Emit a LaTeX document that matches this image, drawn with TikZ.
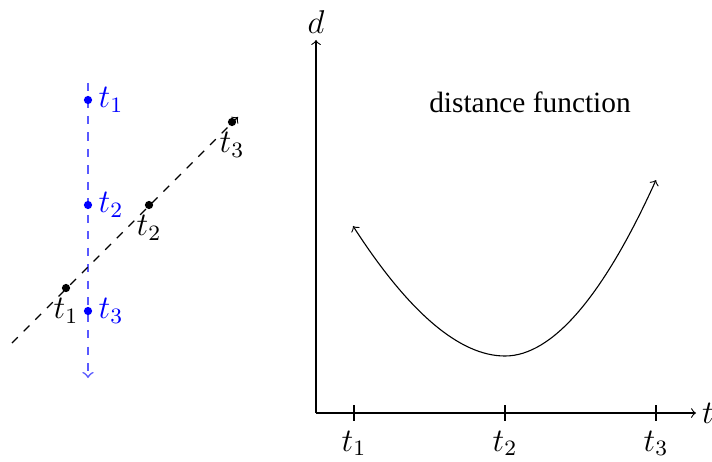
\documentclass[tikz,border=0pt]{standalone}
\usepackage{fontspec}
\setmainfont{Liberation Serif}
\begin{document}
\begin{tikzpicture}[x=0.0128cm,y=-0.0128cm,
  mfont/.style={font=\fontsize{11.8}{14}\selectfont},
  bdot/.style={circle,fill=blue,inner sep=0pt,minimum size=3pt},
  kdot/.style={circle,fill=black,inner sep=0pt,minimum size=3pt},
  blab/.style={mfont,text=blue,right,inner sep=2pt},
  klab/.style={mfont,below,inner sep=2pt},
  ax/.style={->}]
\useasboundingbox (0,0) rectangle (712,462);
% left: blue vertical line
\coordinate (bt) at (88,83);
\coordinate (bb) at (88,378);
\draw[blue,opacity=0.65,dashed,->,line width=0.6pt] (bt) -- (bb);
\node[bdot] (b1) at (88,100) {};
\node[bdot] (b2) at (88,205) {};
\node[bdot] (b3) at (88,311) {};
\node[blab] (lb1) at (b1.east) {$t_1$};
\node[blab] (lb2) at (b2.east) {$t_2$};
\node[blab] (lb3) at (b3.east) {$t_3$};
% left: black diagonal line
\coordinate (ks) at (12,343);
\coordinate (ke) at (238,117);
\draw[dashed,->] (ks) -- (ke);
\node[kdot] (k1) at (66,288) {};
\node[kdot] (k2) at (149,205) {};
\node[kdot] (k3) at (232,122) {};
\node[klab] (lk1) at (k1.south) {$t_1$};
\node[klab] (lk2) at (k2.south) {$t_2$};
\node[klab] (lk3) at (k3.south) {$t_3$};
% right: axes
\coordinate (o) at (316,413);
\coordinate (ytop) at (316,40);
\coordinate (xend) at (696,413);
\draw[ax] (o) -- (ytop);
\draw[ax] (o) -- (xend);
\node[mfont,above,inner sep=2pt] (dl) at (ytop) {$d$};
\node[mfont,right,inner sep=2pt] (tl) at (xend) {$t$};
\foreach \x/\n in {354/1,505/2,656/3}{
  \coordinate (tk\n) at (\x,413);
  \draw ([yshift=-0.1cm]tk\n) -- ([yshift=0.1cm]tk\n);
  \node[mfont,below,inner sep=2pt] (tkl\n) at ([yshift=-0.15cm]tk\n) {$t_\n$};
}
\node[font=\fontsize{10.7}{13}\selectfont] (title) at (530,102) {distance function};
% curve
\coordinate (cl) at (353,226);
\coordinate (cm) at (505,356);
\coordinate (cr) at (656,180);
\draw[<->] (cl) .. controls (409,313) and (460,356) .. (cm)
  .. controls (552,356) and (603,297) .. (cr);
\end{tikzpicture}
\end{document}
